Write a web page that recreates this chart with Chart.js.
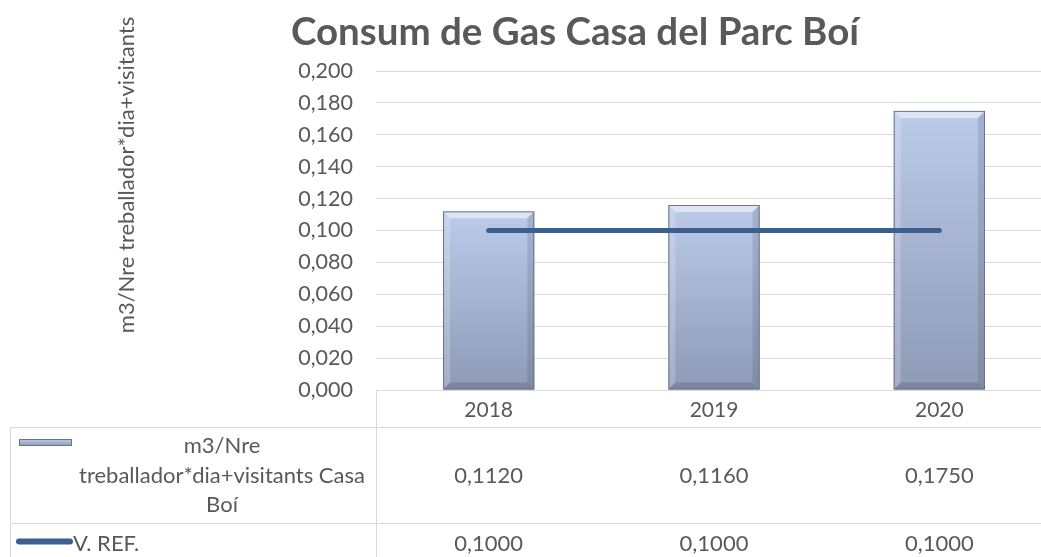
<!DOCTYPE html>
<html lang="ca">
<head>
<meta charset="UTF-8">
<title>Consum de Gas Casa del Parc Boí</title>
<style>
  body { margin: 0; overflow: hidden; background: #fff; }
  #wrap { width: 1052px; height: 557px; }
</style>
</head>
<body>
<div id="wrap"><canvas id="chart"></canvas></div>
<script src="https://cdn.jsdelivr.net/npm/chart.js"></script>
<script>
const years = ['2018', '2019', '2020'];
const gasPerWorker = [0.112, 0.116, 0.175];
const refValues = [0.1, 0.1, 0.1];
const barName = ['m3/Nre', 'treballador*dia+visitants Casa', 'Boí'];
const refName = 'V. REF.';
const axisTitle = 'm3/Nre treballador*dia+visitants';
const chartTitle = 'Consum de Gas Casa del Parc Boí';

const FONT = 'Lato, "Open Sans", sans-serif';
const TEXT = '#595959';
const GRID = '#d9d9d9';
const LINE = '#3b5f8e';

const fmt = (v, d) => v.toFixed(d).replace('.', ',');

function barGradient(ctx, top, bottom) {
  const g = ctx.createLinearGradient(0, top, 0, bottom);
  g.addColorStop(0, '#bccbea');
  g.addColorStop(1, '#8e9ab6');
  return g;
}

// bevel edges on the bars, Excel style
const bevel = {
  id: 'bevel',
  afterDatasetDraw(chart, args) {
    if (args.meta.type !== 'bar') return;
    const c = chart.ctx;
    args.meta.data.forEach(el => {
      const l = el.x - el.width / 2, r = el.x + el.width / 2, t = el.y, b = el.base, s = 7;
      c.save();
      c.fillStyle = 'rgba(255,255,255,0.5)';
      c.beginPath(); c.moveTo(l, t); c.lineTo(r, t); c.lineTo(r - s, t + s); c.lineTo(l + s, t + s); c.closePath(); c.fill();
      c.fillStyle = 'rgba(255,255,255,0.2)';
      c.beginPath(); c.moveTo(l, t); c.lineTo(l + s, t + s); c.lineTo(l + s, b - s); c.lineTo(l, b); c.closePath(); c.fill();
      c.fillStyle = 'rgba(60,70,95,0.18)';
      c.beginPath(); c.moveTo(r, t); c.lineTo(r, b); c.lineTo(r - s, b - s); c.lineTo(r - s, t + s); c.closePath(); c.fill();
      c.fillStyle = 'rgba(60,70,95,0.25)';
      c.beginPath(); c.moveTo(l, b); c.lineTo(r, b); c.lineTo(r - s, b - s); c.lineTo(l + s, b - s); c.closePath(); c.fill();
      c.strokeStyle = '#6a7388';
      c.lineWidth = 1;
      c.strokeRect(l + 0.5, t + 0.5, el.width - 1, b - t - 1);
      c.restore();
    });
  }
};

// title, axis title and the data table under the plot
const extras = {
  id: 'extras',
  afterDraw(chart) {
    const c = chart.ctx, x = chart.scales.x, a = chart.chartArea;
    c.save();
    c.fillStyle = TEXT;
    c.textAlign = 'center';
    c.textBaseline = 'middle';
    c.font = 'bold 38.5px ' + FONT;
    c.fillText(chartTitle, 575, 33);

    c.save();
    c.translate(127, 175);
    c.rotate(-Math.PI / 2);
    c.font = '22px ' + FONT;
    c.fillText(axisTitle, 0, 0);
    c.restore();

    c.strokeStyle = GRID;
    c.lineWidth = 1;
    c.beginPath();
    c.moveTo(a.left + 0.5, a.bottom); c.lineTo(a.left + 0.5, 557);
    c.moveTo(10.5, 427.5); c.lineTo(10.5, 557);
    c.moveTo(10, 427.5); c.lineTo(chart.width, 427.5);
    c.moveTo(10, 523.5); c.lineTo(chart.width, 523.5);
    c.stroke();

    // legend keys
    c.fillStyle = barGradient(c, 439, 446);
    c.fillRect(19, 439, 53, 7);
    c.strokeStyle = '#6a7388';
    c.strokeRect(19.5, 439.5, 52, 6);
    c.strokeStyle = LINE;
    c.lineWidth = 6;
    c.lineCap = 'round';
    c.beginPath(); c.moveTo(19, 541.5); c.lineTo(70, 541.5); c.stroke();

    c.fillStyle = TEXT;
    c.font = '22px ' + FONT;
    c.fillText(barName[0], 222, 446);
    c.fillText(barName[1], 222, 476);
    c.fillText(barName[2], 222, 505);
    c.textAlign = 'left';
    c.fillText(refName, 73, 544);
    c.textAlign = 'center';
    years.forEach((y, i) => {
      const px = x.getPixelForValue(i);
      c.fillText(fmt(gasPerWorker[i], 4), px, 476);
      c.fillText(fmt(refValues[i], 4), px, 544);
    });
    c.restore();
  }
};

new Chart(document.getElementById('chart'), {
  data: {
    labels: years,
    datasets: [
      {
        type: 'line',
        label: refName,
        data: refValues,
        borderColor: LINE,
        borderWidth: 5,
        borderCapStyle: 'round',
        pointRadius: 0,
        order: 0
      },
      {
        type: 'bar',
        label: barName.join(' '),
        data: gasPerWorker,
        backgroundColor: ctx => {
          const ch = ctx.chart;
          if (!ch.chartArea || ctx.raw == null) return '#a8b6d4';
          const ys = ch.scales.y;
          return barGradient(ch.ctx, ys.getPixelForValue(ctx.raw), ys.getPixelForValue(0));
        },
        barPercentage: 0.405,
        categoryPercentage: 1,
        order: 1
      }
    ]
  },
  options: {
    responsive: true,
    maintainAspectRatio: false,
    animation: false,
    layout: { padding: { top: 71, left: 0, right: 0, bottom: 0 } },
    plugins: { legend: { display: false }, tooltip: { enabled: false } },
    scales: {
      x: {
        grid: { display: false },
        border: { display: true, color: GRID },
        ticks: { color: TEXT, font: { family: FONT, size: 21 }, padding: 0 },
        afterFit: s => { s.height = 167; }
      },
      y: {
        min: 0,
        max: 0.2,
        grid: { color: GRID, drawTicks: false },
        border: { display: false },
        ticks: {
          stepSize: 0.02,
          color: TEXT,
          font: { family: FONT, size: 21.5 },
          padding: 23,
          callback: v => fmt(v, 3)
        },
        afterFit: s => { s.width = 376; }
      }
    }
  },
  plugins: [bevel, extras]
});
</script>
</body>
</html>
